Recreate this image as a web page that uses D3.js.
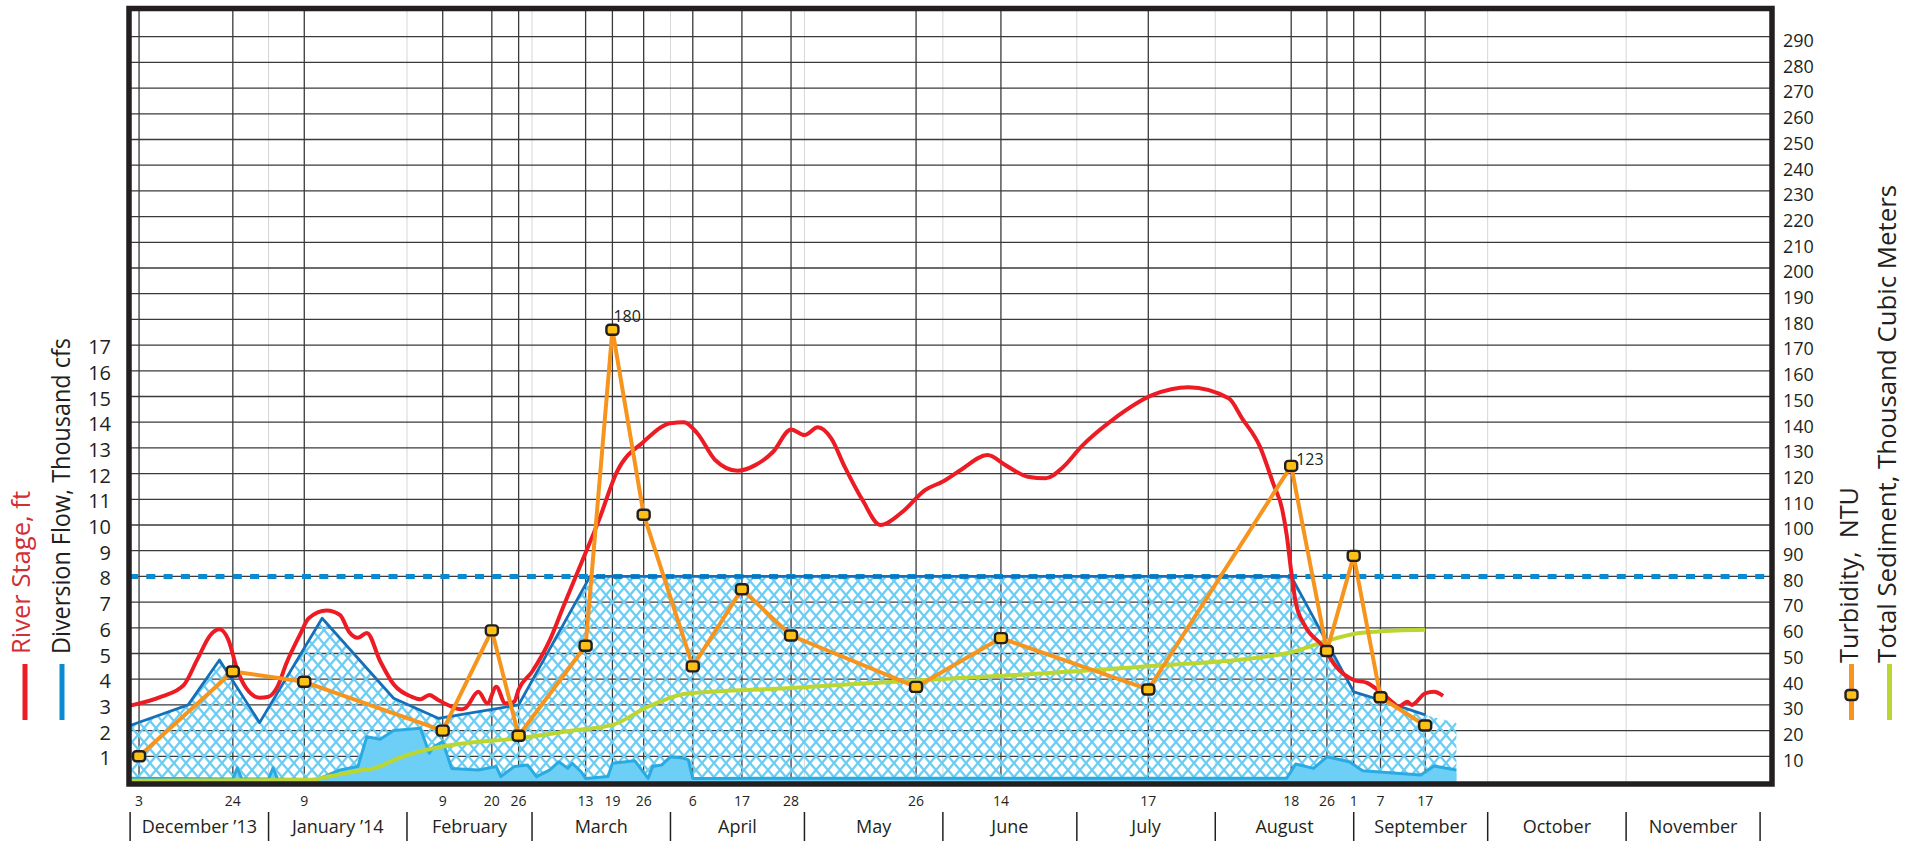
<!DOCTYPE html>
<html>
<head>
<meta charset="utf-8">
<script src="https://cdn.jsdelivr.net/npm/d3@7"></script>
<style>
  html, body { margin: 0; padding: 0; background: #fff; }
  svg { display: block; font-family: "Open Sans", "Noto Sans", sans-serif; }
</style>
</head>
<body>
<svg id="chart" width="1914" height="842"></svg>
<script>
var parse = d3.timeParse("%Y-%m-%d");

// ── Turbidity samples (NTU); these dates also carry the dark gridlines ──
var sampleDates = ["2013-12-03", "2013-12-24", "2014-01-09", "2014-02-09", "2014-02-20", "2014-02-26",
  "2014-03-13", "2014-03-19", "2014-03-26", "2014-04-06", "2014-04-17", "2014-04-28", "2014-05-26",
  "2014-06-14", "2014-07-17", "2014-08-18", "2014-08-26", "2014-09-01", "2014-09-07", "2014-09-17"];
var sampleDayLabels = ["3", "24", "9", "9", "20", "26", "13", "19", "26", "6", "17", "28", "26",
  "14", "17", "18", "26", "1", "7", "17"];
var turbidityNTU = [10, 43, 39, 20, 59, 18, 53, 176, 104, 45, 75, 57, 37, 56, 36, 123, 51, 88, 33, 22];
var turbidityNotes = [{ date: "2014-03-19", text: "180" }, { date: "2014-08-18", text: "123" }];

// ── River stage, ft ──
var stageDates = ["2013-12-01", "2013-12-08", "2013-12-13", "2013-12-16", "2013-12-19", "2013-12-21",
  "2013-12-23", "2013-12-25", "2013-12-27", "2013-12-30", "2014-01-01", "2014-01-03", "2014-01-05",
  "2014-01-08", "2014-01-10", "2014-01-14", "2014-01-17", "2014-01-19", "2014-01-21", "2014-01-23",
  "2014-01-26", "2014-01-29", "2014-02-02", "2014-02-04", "2014-02-06", "2014-02-08", "2014-02-11",
  "2014-02-13", "2014-02-14", "2014-02-17", "2014-02-19", "2014-02-21", "2014-02-23", "2014-02-25",
  "2014-02-26", "2014-03-01", "2014-03-05", "2014-03-08", "2014-03-12", "2014-03-16", "2014-03-20",
  "2014-03-26", "2014-04-01", "2014-04-04", "2014-04-07", "2014-04-11", "2014-04-16", "2014-04-20",
  "2014-04-24", "2014-04-28", "2014-05-01", "2014-05-04", "2014-05-07", "2014-05-10", "2014-05-14",
  "2014-05-18", "2014-05-23", "2014-05-28", "2014-06-01", "2014-06-05", "2014-06-11", "2014-06-15",
  "2014-06-20", "2014-06-24", "2014-06-28", "2014-07-02", "2014-07-09", "2014-07-18", "2014-07-26",
  "2014-08-04", "2014-08-07", "2014-08-11", "2014-08-14", "2014-08-16", "2014-08-17", "2014-08-18",
  "2014-08-19", "2014-08-21", "2014-08-25", "2014-08-28", "2014-09-01", "2014-09-04", "2014-09-07",
  "2014-09-10", "2014-09-11", "2014-09-13", "2014-09-14", "2014-09-17", "2014-09-19", "2014-09-21"];
var stageFt = [2.97, 3.32, 3.77, 4.75, 5.72, 5.94,
  5.53, 4.36, 3.65, 3.28, 3.32, 3.71, 4.62,
  5.72, 6.37, 6.67, 6.5, 5.85, 5.61, 5.8,
  4.7, 3.8, 3.32, 3.22, 3.39, 3.19, 2.93,
  2.83, 2.87, 3.51, 3.06, 3.71, 3.06, 3.12,
  3.6, 4.29, 5.53, 6.82, 8.5, 10.2, 12.07,
  13.24, 13.96, 14.0, 13.57, 12.53, 12.11, 12.33,
  12.85, 13.72, 13.5, 13.8, 13.37, 12.27, 10.97,
  10.0, 10.52, 11.36, 11.69, 12.14, 12.72, 12.33,
  11.88, 11.82, 12.27, 13.05, 14.09, 15.06, 15.36,
  14.93, 14.15, 13.05, 11.6, 10.6, 9.6, 8.2,
  7.0, 6.1, 5.3, 4.5, 3.97, 3.86, 3.5,
  3.06, 2.93, 3.12, 3.0, 3.45, 3.51, 3.35];

// ── Diversion flow, thousand cfs (hatched); line drawn up to flowLineEnd ──
var flowDates = ["2013-12-01", "2013-12-14", "2013-12-21", "2013-12-30", "2014-01-13", "2014-01-29",
  "2014-02-08", "2014-02-26", "2014-03-14", "2014-08-18", "2014-09-01", "2014-09-07", "2014-09-17",
  "2014-09-24"];
var flowKcfs = [2.2, 3.0, 4.75, 2.31, 6.37, 3.26, 2.48, 3.0, 8.0, 8.0, 3.51, 3.19, 2.61, 2.3];
var flowLineEnd = "2014-09-17";
var flowCapKcfs = 8;

// ── Daily flow, thousand cfs (solid light blue) ──
var dailyFlowDates = ["2013-12-01", "2013-12-24", "2013-12-25", "2013-12-26", "2014-01-01", "2014-01-02",
  "2014-01-03", "2014-01-12", "2014-01-17", "2014-01-21", "2014-01-23", "2014-01-26", "2014-01-29",
  "2014-02-04", "2014-02-06", "2014-02-07", "2014-02-09", "2014-02-11", "2014-02-17", "2014-02-21",
  "2014-02-22", "2014-02-25", "2014-02-28", "2014-03-02", "2014-03-05", "2014-03-07", "2014-03-09",
  "2014-03-10", "2014-03-12", "2014-03-13", "2014-03-18", "2014-03-19", "2014-03-24", "2014-03-27",
  "2014-03-28", "2014-03-30", "2014-04-01", "2014-04-04", "2014-04-05", "2014-04-06", "2014-08-17",
  "2014-08-19", "2014-08-23", "2014-08-26", "2014-08-31", "2014-09-03", "2014-09-16", "2014-09-19",
  "2014-09-24"];
var dailyFlowKcfs = [0.15, 0.12, 0.55, 0.12, 0.12, 0.55,
  0.12, 0.1, 0.47, 0.6, 1.76, 1.66, 2.0,
  2.09, 1.12, 1.37, 1.57, 0.53, 0.47, 0.6,
  0.21, 0.6, 0.66, 0.21, 0.47, 0.79, 0.53,
  0.73, 0.4, 0.14, 0.21, 0.73, 0.83, 0.14,
  0.6, 0.66, 0.98, 0.92, 0.86, 0.14, 0.15,
  0.7, 0.53, 0.98, 0.79, 0.44, 0.27, 0.62,
  0.47];

// ── Total sediment, thousand cubic meters ──
var sedimentDates = ["2013-12-01", "2014-01-10", "2014-01-15", "2014-01-21", "2014-01-25", "2014-01-30",
  "2014-02-08", "2014-02-14", "2014-02-26", "2014-03-11", "2014-03-19", "2014-03-27", "2014-04-05",
  "2014-04-27", "2014-05-25", "2014-06-13", "2014-07-16", "2014-08-17", "2014-08-26", "2014-09-01",
  "2014-09-06", "2014-09-17"];
var sedimentKm3 = [0.5, 0.8, 2.3, 4.4, 5.5, 9.2,
  13.5, 15.1, 17.0, 20.2, 22.2, 29.3, 34.5,
  36.5, 39.4, 41.2, 44.9, 50.1, 54.9, 57.6,
  58.5, 59.2];

// ── Axis labels ──
var monthStarts = ["2013-12-01", "2014-01-01", "2014-02-01", "2014-03-01", "2014-04-01", "2014-05-01",
  "2014-06-01", "2014-07-01", "2014-08-01", "2014-09-01", "2014-10-01", "2014-11-01", "2014-12-01"];
var monthLabels = ["December \u201913", "January \u201914", "February", "March", "April", "May",
  "June", "July", "August", "September", "October", "November"];
var leftTickLabels = [1, 2, 3, 4, 5, 6, 7, 8, 9, 10, 11, 12, 13, 14, 15, 16, 17];
var rightTickLabels = [10, 20, 30, 40, 50, 60, 70, 80, 90, 100, 110, 120, 130, 140, 150, 160, 170,
  180, 190, 200, 210, 220, 230, 240, 250, 260, 270, 280, 290];

// ── Colours ──
var C = {
  ink: "#231f20",
  grid: "#3a3a3a",
  monthGrid: "#d6d6d6",
  stage: "#ed1c24",
  stageText: "#d12e36",
  flow: "#1470b8",
  cap: "#0a8bd1",
  hatch: "#6ccdf4",
  daily: "#6dcff6",
  dailyEdge: "#29abe2",
  turb: "#f7941d",
  marker: "#fcc016",
  sed: "#bcd631"
};

var svg = d3.select("#chart");
var plot = { left: 129, right: 1772, top: 11, bottom: 782 };

var anchor = parse("2013-12-03");
var x = d3.scaleTime()
  .domain([d3.timeHour.offset(anchor, -54), d3.timeHour.offset(anchor, 8776)])
  .range([plot.left, plot.right]);
var yLeft = d3.scaleLinear().domain([0, 30]).range([plot.bottom, plot.top]);
var yRight = d3.scaleLinear().domain([0, 300]).range([plot.bottom, plot.top]);

function zip(dates, vals) {
  return dates.map(function (d, i) { return { date: parse(d), v: vals[i] }; });
}
var turbidity = zip(sampleDates, turbidityNTU);
var stage = zip(stageDates, stageFt);
var flow = zip(flowDates, flowKcfs);
var flowLine = flow.filter(function (d) { return d.date <= parse(flowLineEnd); });
var daily = zip(dailyFlowDates, dailyFlowKcfs);
var sediment = zip(sedimentDates, sedimentKm3);

// ── Hatch pattern ───────────────────────────────────────
var defs = svg.append("defs");
var pat = defs.append("pattern")
  .attr("id", "hatch")
  .attr("patternUnits", "userSpaceOnUse")
  .attr("width", 12)
  .attr("height", 14);
pat.append("path")
  .attr("d", "M-3,-3.5L15,17.5M15,-3.5L-3,17.5")
  .attr("stroke", C.hatch)
  .attr("stroke-width", 2.3)
  .attr("fill", "none");

defs.append("clipPath").attr("id", "plotclip")
  .append("rect")
  .attr("x", plot.left).attr("y", plot.top)
  .attr("width", plot.right - plot.left).attr("height", plot.bottom - plot.top);

var g = svg.append("g").attr("clip-path", "url(#plotclip)");

// ── Grid ────────────────────────────────────────────────
var monthDates = monthStarts.map(parse);
g.selectAll(".mgrid")
  .data(monthDates.filter(function (d) { return x(d) > plot.left + 5 && x(d) < plot.right - 15; }))
  .join("line")
  .attr("class", "mgrid")
  .attr("x1", function (d) { return x(d); })
  .attr("x2", function (d) { return x(d); })
  .attr("y1", plot.top).attr("y2", plot.bottom)
  .attr("stroke", C.monthGrid).attr("stroke-width", 1);

g.selectAll(".hgrid")
  .data(d3.range(1, 30))
  .join("line")
  .attr("class", "hgrid")
  .attr("x1", plot.left).attr("x2", plot.right)
  .attr("y1", function (d) { return yLeft(d); })
  .attr("y2", function (d) { return yLeft(d); })
  .attr("stroke", C.grid).attr("stroke-width", 1.3);

g.selectAll(".vgrid")
  .data(turbidity)
  .join("line")
  .attr("class", "vgrid")
  .attr("x1", function (d) { return x(d.date); })
  .attr("x2", function (d) { return x(d.date); })
  .attr("y1", plot.top).attr("y2", plot.bottom)
  .attr("stroke", C.grid).attr("stroke-width", 1.3);

// ── Diversion flow (hatched) ────────────────────────────
g.append("path")
  .datum(flow)
  .attr("fill", "url(#hatch)")
  .attr("d", d3.area()
    .x(function (d) { return x(d.date); })
    .y0(yLeft(0))
    .y1(function (d) { return yLeft(d.v); }));

// ── Daily flow (solid) ──────────────────────────────────
g.append("path")
  .datum(daily)
  .attr("fill", C.daily)
  .attr("d", d3.area()
    .x(function (d) { return x(d.date); })
    .y0(yLeft(0))
    .y1(function (d) { return yLeft(d.v); }));
g.append("path")
  .datum(daily)
  .attr("fill", "none")
  .attr("stroke", C.dailyEdge)
  .attr("stroke-width", 3)
  .attr("stroke-linejoin", "round")
  .attr("d", d3.line()
    .x(function (d) { return x(d.date); })
    .y(function (d) { return yLeft(d.v); }));

// ── 8,000 cfs cap (dashed) ──────────────────────────────
g.append("line")
  .attr("x1", plot.left).attr("x2", plot.right)
  .attr("y1", yLeft(flowCapKcfs)).attr("y2", yLeft(flowCapKcfs))
  .attr("stroke", C.cap)
  .attr("stroke-width", 5)
  .attr("stroke-dasharray", "9,8.3");

g.append("path")
  .datum(flowLine)
  .attr("fill", "none")
  .attr("stroke", C.flow)
  .attr("stroke-width", 2.8)
  .attr("stroke-linejoin", "round")
  .attr("d", d3.line()
    .x(function (d) { return x(d.date); })
    .y(function (d) { return yLeft(d.v); }));

// ── Total sediment ──────────────────────────────────────
g.append("path")
  .datum(sediment)
  .attr("fill", "none")
  .attr("stroke", C.sed)
  .attr("stroke-width", 4)
  .attr("stroke-linejoin", "round")
  .attr("d", d3.line()
    .curve(d3.curveMonotoneX)
    .x(function (d) { return x(d.date); })
    .y(function (d) { return yRight(d.v); }));

// ── River stage ─────────────────────────────────────────
g.append("path")
  .datum(stage)
  .attr("fill", "none")
  .attr("stroke", C.stage)
  .attr("stroke-width", 4)
  .attr("stroke-linejoin", "round")
  .attr("d", d3.line()
    .curve(d3.curveMonotoneX)
    .x(function (d) { return x(d.date); })
    .y(function (d) { return yLeft(d.v); }));

// ── Turbidity ───────────────────────────────────────────
g.append("path")
  .datum(turbidity)
  .attr("fill", "none")
  .attr("stroke", C.turb)
  .attr("stroke-width", 4)
  .attr("stroke-linejoin", "round")
  .attr("d", d3.line()
    .x(function (d) { return x(d.date); })
    .y(function (d) { return yRight(d.v); }));

g.selectAll(".mark")
  .data(turbidity)
  .join("rect")
  .attr("class", "mark")
  .attr("x", function (d) { return x(d.date) - 6; })
  .attr("y", function (d) { return yRight(d.v) - 5; })
  .attr("width", 12).attr("height", 10).attr("rx", 3)
  .attr("fill", C.marker)
  .attr("stroke", C.ink)
  .attr("stroke-width", 2.4);

// value notes: 180 sits above-right, 123 beside
var noteOffset = { "180": [1, -8], "123": [5, -1] };
svg.selectAll(".note")
  .data(turbidityNotes)
  .join("text")
  .attr("class", "note")
  .attr("x", function (d) { return x(parse(d.date)) + noteOffset[d.text][0]; })
  .attr("y", function (d) {
    var t = turbidity.find(function (p) { return +p.date === +parse(d.date); });
    return yRight(t.v) + noteOffset[d.text][1];
  })
  .attr("font-size", 16)
  .attr("fill", C.ink)
  .text(function (d) { return d.text; });

// ── Frame ───────────────────────────────────────────────
svg.append("rect")
  .attr("x", plot.left).attr("y", plot.top - 2.5)
  .attr("width", plot.right - plot.left)
  .attr("height", plot.bottom - plot.top + 4.5)
  .attr("fill", "none")
  .attr("stroke", C.ink)
  .attr("stroke-width", 5.5);

// ── Axis labels ─────────────────────────────────────────
svg.selectAll(".lt")
  .data(leftTickLabels)
  .join("text")
  .attr("class", "lt")
  .attr("x", 111)
  .attr("y", function (d) { return yLeft(d) + 2; })
  .attr("dy", "0.35em")
  .attr("text-anchor", "end")
  .attr("font-size", 20)
  .attr("fill", C.ink)
  .text(function (d) { return d; });

svg.selectAll(".rt")
  .data(rightTickLabels)
  .join("text")
  .attr("class", "rt")
  .attr("x", 1783)
  .attr("y", function (d) { return yRight(d) + 4; })
  .attr("dy", "0.35em")
  .attr("font-size", 18)
  .attr("fill", C.ink)
  .text(function (d) { return d; });

svg.selectAll(".dt")
  .data(turbidity)
  .join("text")
  .attr("class", "dt")
  .attr("x", function (d) { return x(d.date); })
  .attr("y", 806)
  .attr("text-anchor", "middle")
  .attr("font-size", 14)
  .attr("fill", C.ink)
  .text(function (d, i) { return sampleDayLabels[i]; });

svg.selectAll(".msep")
  .data(monthDates)
  .join("line")
  .attr("class", "msep")
  .attr("x1", function (d) { return x(d); })
  .attr("x2", function (d) { return x(d); })
  .attr("y1", 812).attr("y2", 841)
  .attr("stroke", C.ink).attr("stroke-width", 1.5);

svg.selectAll(".ml")
  .data(monthLabels)
  .join("text")
  .attr("class", "ml")
  .attr("x", function (d, i) { return (x(monthDates[i]) + x(monthDates[i + 1])) / 2; })
  .attr("y", 833)
  .attr("text-anchor", "middle")
  .attr("font-size", 18)
  .attr("fill", C.ink)
  .text(function (d) { return d; });

// ── Legends (rotated titles) ────────────────────────────
function vtitle(xb, yb, len, color, txt) {
  svg.append("text")
    .attr("transform", "translate(" + xb + "," + yb + ") rotate(-90)")
    .attr("font-size", 25)
    .attr("fill", color)
    .attr("textLength", len)
    .attr("lengthAdjust", "spacingAndGlyphs")
    .style("white-space", "pre")
    .text(txt);
}
vtitle(30, 654, 163, C.stageText, "River Stage, ft");
vtitle(70, 654, 316, C.ink, "Diversion Flow, Thousand cfs");
vtitle(1858, 663, 176, C.ink, "Turbidity,  NTU");
vtitle(1896, 663, 478, C.ink, "Total Sediment, Thousand Cubic Meters");

function vbar(xc, color) {
  svg.append("line")
    .attr("x1", xc).attr("x2", xc)
    .attr("y1", 664).attr("y2", 720)
    .attr("stroke", color).attr("stroke-width", 5);
}
vbar(25, C.stage);
vbar(62, C.cap);
vbar(1851.5, C.turb);
vbar(1889.5, C.sed);
svg.append("rect")
  .attr("x", 1845.5).attr("y", 690)
  .attr("width", 12).attr("height", 10).attr("rx", 3)
  .attr("fill", C.marker)
  .attr("stroke", C.ink)
  .attr("stroke-width", 2.4);
</script>
</body>
</html>
